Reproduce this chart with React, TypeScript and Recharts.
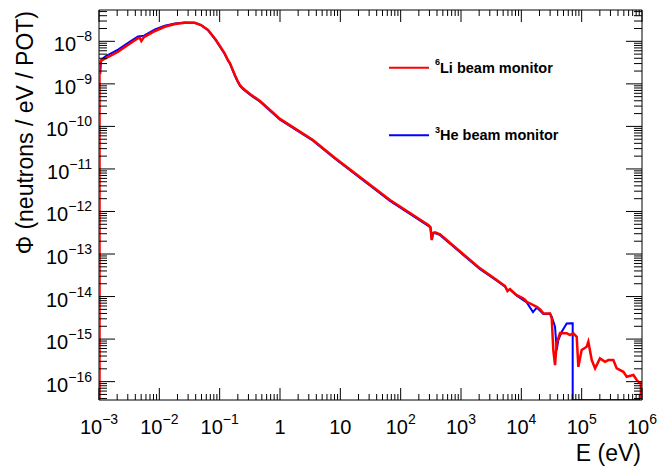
import { LineChart, Line, XAxis, YAxis, ReferenceArea, Legend } from 'recharts'

const FONT = '"Liberation Sans", Arial, Helvetica, sans-serif'
const PLOT = { left: 99, right: 642, top: 10, bottom: 400 }
const E_MIN = 1e-3
const E_MAX = 1e6
const PHI_MIN = 3.7e-17
const PHI_MAX = 5.45e-8

// 6Li beam monitor (red)
const liEnergy = [
  1.02e-3, 1.02e-3, 1.26e-3, 2.07e-3, 3.27e-3, 4.43e-3, 4.75e-3, 5.03e-3, 5.57e-3, 8.47e-3,
  1.23e-2, 1.82e-2, 2.64e-2, 3.86e-2, 4.91e-2, 6.41e-2, 8.7e-2, 0.121, 0.137, 0.148,
  0.163, 0.179, 0.197, 0.217, 0.24, 0.263, 0.318, 0.467, 1.0, 3.52,
  8.17, 66.5, 287, 312, 327, 344, 371, 450, 1000, 2070,
  3910, 5370, 5900, 6500, 8390, 10500, 11500, 12300, 18000, 20500,
  23200, 29900, 31900, 33900, 36200, 38600, 43800, 56500, 64100, 72800,
  82800, 88100, 1.0e5, 1.21e5, 1.29e5, 1.47e5, 1.67e5, 2.01e5, 2.44e5, 2.77e5,
  3.35e5, 3.81e5, 4.91e5, 5.59e5, 7.19e5, 8.19e5, 9.29e5, 9.6e5, 9.6e5,
]
const liFlux = [
  3.7e-17, 3.3e-9, 3.94e-9, 5.69e-9, 8.87e-9, 1.18e-8, 1.2e-8, 1.02e-8, 1.26e-8, 1.75e-8,
  2.2e-8, 2.55e-8, 2.73e-8, 2.73e-8, 2.42e-8, 1.85e-8, 1.07e-8, 5.22e-9, 3.63e-9, 3.09e-9,
  2.2e-9, 1.61e-9, 1.2e-9, 9.4e-10, 8.0e-10, 7.16e-10, 5.77e-10, 3.95e-10, 1.5e-10, 4.78e-11,
  1.8e-11, 1.86e-12, 4.8e-13, 4.3e-13, 2.13e-13, 3.11e-13, 3.23e-13, 2.9e-13, 1.1e-13, 4.6e-14,
  2.44e-14, 1.76e-14, 1.35e-14, 1.5e-14, 1.08e-14, 9.2e-15, 8.4e-15, 7.54e-15, 5.75e-15, 5.0e-15,
  4.02e-15, 4.02e-15, 3.07e-15, 5.52e-16, 2.45e-16, 8.05e-16, 1.38e-15, 1.37e-15, 1.24e-15, 1.37e-15,
  1.13e-15, 2.23e-16, 5.52e-16, 6.6e-16, 8.65e-16, 3.21e-16, 2.05e-16, 3.52e-16, 2.92e-16, 3.21e-16,
  3.21e-16, 2.05e-16, 1.7e-16, 1.3e-16, 1.43e-16, 1.09e-16, 9.1e-17, 9.1e-17, 3.7e-17,
]

// 3He beam monitor (blue)
const heEnergy = [
  1.05e-3, 1.08e-3, 1.26e-3, 2.07e-3, 3.27e-3, 4.43e-3, 5.03e-3, 5.57e-3, 8.47e-3, 1.23e-2,
  1.82e-2, 2.64e-2, 3.86e-2, 4.91e-2, 6.41e-2, 8.7e-2, 0.121, 0.137, 0.148, 0.163,
  0.179, 0.197, 0.217, 0.24, 0.263, 0.318, 0.467, 1.0, 3.52, 8.17,
  66.5, 287, 312, 327, 344, 371, 450, 1000, 2070, 3910,
  5370, 5900, 6500, 8390, 12300, 15600, 18000, 23200, 29900, 31900,
  36200, 38600, 41000, 46700, 56500, 68400, 71000, 71000, 1e6,
]
const heFlux = [
  1.7e-9, 3.6e-9, 4.4e-9, 6.4e-9, 9.9e-9, 1.3e-8, 1.33e-8, 1.36e-8, 1.9e-8, 2.32e-8,
  2.62e-8, 2.76e-8, 2.73e-8, 2.4e-8, 1.82e-8, 1.04e-8, 5.05e-9, 3.52e-9, 2.98e-9, 2.12e-9,
  1.55e-9, 1.15e-9, 9.0e-10, 7.7e-10, 6.9e-10, 5.55e-10, 3.8e-10, 1.44e-10, 4.6e-11, 1.73e-11,
  1.78e-12, 4.6e-13, 4.15e-13, 2.2e-13, 3.0e-13, 3.1e-13, 2.78e-13, 1.05e-13, 4.4e-14, 2.35e-14,
  1.7e-14, 1.4e-14, 1.45e-14, 1.04e-14, 7.3e-15, 4.3e-15, 5.5e-15, 3.9e-15, 3.95e-15, 3.35e-15,
  1.95e-15, 5.52e-16, 9.48e-16, 1.49e-15, 2.34e-15, 2.37e-15, 2.37e-15, 3.7e-17, 3.7e-17,
]

const xMajor = [1e-3, 1e-2, 1e-1, 1, 10, 1e2, 1e3, 1e4, 1e5, 1e6]
const xBase = ['10', '10', '10', '1', '10', '10', '10', '10', '10', '10']
const xExp = ['−3', '−2', '−1', '', '', '2', '3', '4', '5', '6']

const yMajor = [1e-16, 1e-15, 1e-14, 1e-13, 1e-12, 1e-11, 1e-10, 1e-9, 1e-8]
const yExp = ['−16', '−15', '−14', '−13', '−12', '−11', '−10', '−9', '−8']

const minorSteps = [2, 3, 4, 5, 6, 7, 8, 9]

const xTicks = [
  ...xMajor,
  ...xMajor.slice(0, -1).flatMap(d => minorSteps.map(k => d * k)),
]
const yTicks = [
  ...yMajor,
  ...[1e-17, ...yMajor].flatMap(d => minorSteps.map(k => d * k)).filter(v => v >= PHI_MIN && v <= PHI_MAX),
]

const liData = liEnergy.map((x, i) => ({ x, y: liFlux[i] }))
const heData = heEnergy.map((x, i) => ({ x, y: heFlux[i] }))

const series = [
  { name: 'Li', mass: '6', color: '#ff0000' },
  { name: 'He', mass: '3', color: '#0000ff' },
]

function XTick({ x, payload }: any) {
  const i = xMajor.indexOf(payload.value)
  const len = i >= 0 ? 12 : 6
  return (
    <g>
      <line x1={x} x2={x} y1={PLOT.bottom} y2={PLOT.bottom - len} stroke="#000" />
      <line x1={x} x2={x} y1={PLOT.top} y2={PLOT.top + len} stroke="#000" />
      {i >= 0 && (
        <text x={x} y={434} textAnchor="middle" fontFamily={FONT} fontSize={20} fill="#000">
          {xBase[i]}
          {xExp[i] && <tspan dy={-10} fontSize={14}>{xExp[i]}</tspan>}
        </text>
      )}
    </g>
  )
}

function YTick({ y, payload }: any) {
  const i = yMajor.indexOf(payload.value)
  const len = i >= 0 ? 16 : 8
  return (
    <g>
      <line x1={PLOT.left} x2={PLOT.left + len} y1={y} y2={y} stroke="#000" />
      <line x1={PLOT.right} x2={PLOT.right - len} y1={y} y2={y} stroke="#000" />
      {i >= 0 && (
        <text x={92} y={y + 10} textAnchor="end" fontFamily={FONT} fontSize={20} fill="#000">
          10<tspan dy={-10} fontSize={14}>{yExp[i]}</tspan>
        </text>
      )}
    </g>
  )
}

function LegendBox() {
  return (
    <svg width={200} height={110} style={{ display: 'block' }}>
      {series.map((s, i) => (
        <g key={s.name} transform={`translate(0, ${i * 67.5})`}>
          <line x1={9} x2={49} y1={17.7} y2={17.7} stroke={s.color} strokeWidth={2} />
          <text x={55} y={22.7} fontFamily={FONT} fontWeight="bold" fontSize={14.5} fill="#000">
            <tspan fontSize={9} dy={-7.5}>{s.mass}</tspan>
            <tspan dy={7.5}>{s.name} beam monitor</tspan>
          </text>
        </g>
      ))}
    </svg>
  )
}

export default function App() {
  return (
    <div style={{ position: 'absolute', left: 0, top: 0, background: '#fff' }}>
      <LineChart width={659} height={466} margin={{ top: 10, right: 17, bottom: 0, left: 0 }}>
        <XAxis
          type="number"
          dataKey="x"
          scale="log"
          domain={[E_MIN, E_MAX]}
          allowDataOverflow
          ticks={xTicks}
          interval={0}
          tick={(p: any) => <XTick {...p} />}
          tickLine={false}
          axisLine={false}
          height={66}
          label={{
            content: () => (
              <text x={641} y={461} textAnchor="end" fontFamily={FONT} fontSize={23} fill="#000">E (eV)</text>
            ),
          }}
        />
        <YAxis
          type="number"
          scale="log"
          domain={[PHI_MIN, PHI_MAX]}
          allowDataOverflow
          ticks={yTicks}
          interval={0}
          tick={(p: any) => <YTick {...p} />}
          tickLine={false}
          axisLine={false}
          width={99}
          label={{
            content: () => (
              <text x={33} y={11} transform="rotate(-90 33 11)" textAnchor="end" fontFamily={FONT} fontSize={23} fill="#000">
                Φ (neutrons / eV / POT)
              </text>
            ),
          }}
        />
        <ReferenceArea x1={E_MIN} x2={E_MAX} y1={PHI_MIN} y2={PHI_MAX} fill="none" fillOpacity={0} stroke="#000" strokeWidth={1} />
        <Line data={heData} dataKey="y" type="linear" stroke="#0000ff" strokeWidth={2} dot={false} isAnimationActive={false} legendType="none" />
        <Line data={liData} dataKey="y" type="linear" stroke="#ff0000" strokeWidth={2.5} dot={false} isAnimationActive={false} legendType="none" />
        <Legend
          layout="vertical"
          align="center"
          verticalAlign="middle"
          content={() => <LegendBox />}
          wrapperStyle={{ left: 380, top: 50, width: 200, height: 110 }}
        />
      </LineChart>
    </div>
  )
}
